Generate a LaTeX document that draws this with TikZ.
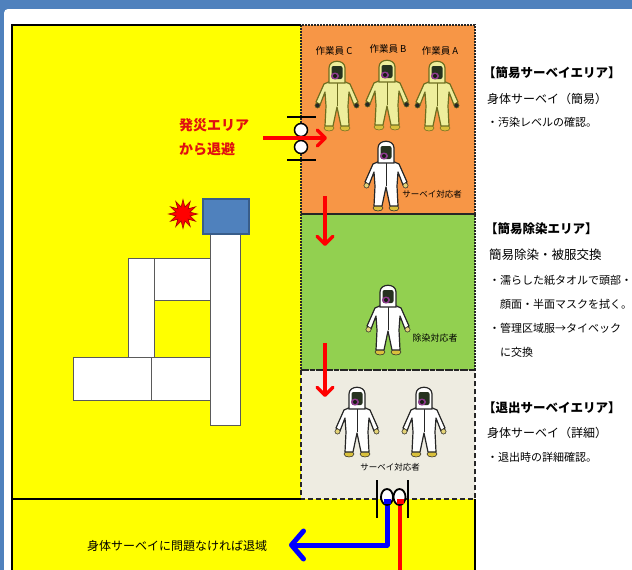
\documentclass[tikz,border=0pt]{standalone}
\usepackage{fontspec}
\setmainfont{Noto Sans CJK JP}
\usetikzlibrary{arrows.meta,shapes.geometric}

\definecolor{frameblue}{HTML}{4F81BD}
\definecolor{zoneorange}{HTML}{F79646}
\definecolor{zonegreen}{HTML}{92D050}
\definecolor{zonegray}{HTML}{EEECE1}
\definecolor{areayellow}{HTML}{FFFF00}
\definecolor{boxedge}{HTML}{385D8A}
\definecolor{suityellow}{HTML}{EEEE9C}
\definecolor{suitedge}{HTML}{6E6E20}
\definecolor{maskdark}{HTML}{26321F}
\definecolor{maskpurple}{HTML}{8E3A8E}
\definecolor{bootyellow}{HTML}{D9C03C}
\definecolor{bldedge}{HTML}{5A5A5A}
\definecolor{textred}{HTML}{E01010}
\definecolor{burstred}{HTML}{FF0000}
\definecolor{burstedge}{HTML}{A00000}

\newcommand\fsz[1]{\fontsize{#1}{#1}\selectfont}

\tikzset{
  zonedots/.style={draw=black!85, line width=1.8pt, dash pattern=on 1.8pt off 1.2pt},
  zonedash/.style={draw=black!85, line width=1.8pt, dash pattern=on 5pt off 3pt},
  wall/.style={draw=black, line width=2pt},
  bld/.style={fill=white, draw=bldedge, line width=1.2pt},
  gateline/.style={draw=black, line width=1.5pt},
  redflow/.style={draw=red, line width=3.4pt, -{Straight Barb[length=8pt,width=16pt,round]}},
  blueflow/.style={draw=blue, line width=5pt, line join=round, -{Straight Barb[length=12pt,width=28pt,round]}},
  info/.style={anchor=west, inner sep=0pt, text=black},
  tag/.style={inner sep=0pt, text=black, font=\fsz{8.5}},
  % protective suit figure: top of the hood at the origin, boots at y = 69
  pics/suit/.style n args={3}{code={
    \fill[bootyellow, draw=#2, line width=0.5pt] (-8,68) ellipse (5 and 3) (8,68) ellipse (5 and 3);
    \draw[fill=#1, draw=#2, line width=1.2pt, line join=round]
      (-6,21) -- (-13,24) -- (-21,42) -- (-17,45) -- (-12,32) -- (-11,46) -- (-12,66)
      -- (-4,66) -- (0,47) -- (4,66) -- (12,66) -- (11,46) -- (12,32) -- (17,45)
      -- (21,42) -- (13,24) -- (6,21) -- cycle;
    \draw[#2, line width=0.6pt] (0,22) -- (0,46);
    \fill[#3, draw=#2, line width=0.5pt] (-19.5,45.5) circle (2.6) (19.5,45.5) circle (2.6);
    \draw[fill=#1, draw=#2, line width=1.2pt]
      (-8,23) -- (-8,8) .. controls (-8,-1) and (8,-1) .. (8,8) -- (8,23) -- cycle;
    \fill[maskdark, rounded corners=2pt] (-5.5,6) rectangle (5.5,19);
    \fill[maskpurple] (-2,16) ellipse (4 and 3.5);
    \fill[maskdark!60!black] (-2,16) ellipse (2 and 2);
  }},
}

\begin{document}
\begin{tikzpicture}[x=1pt,y=-1pt]
\useasboundingbox (0,0) rectangle (632,570);
\clip (0,0) rectangle (632,570);

% window frame and page
\fill[frameblue] (0,0) rectangle (632,570);
\fill[white, rounded corners=4pt] (4,9) rectangle (660,600);

% evacuation grounds
\fill[areayellow] (12,25) rectangle (301,499);
\fill[areayellow] (12,499) rectangle (475,590);

% survey and decontamination zones
\fill[zoneorange] (301,25) rectangle (475,214);
\fill[zonegreen] (301,214) rectangle (475,370);
\fill[zonegray] (301,370) rectangle (475,499);
\draw[zonedots] (301,25) rectangle (475,214);
\draw[zonedots] (301,214) rectangle (475,370);
\draw[zonedash] (301,370) rectangle (475,499);

\draw[wall] (301,25) -- (12,25) -- (12,575);
\draw[wall] (12,499) -- (301,499);
\draw[wall] (475,499) -- (475,575);

% plant buildings
\node[bld, minimum width=30pt, minimum height=192pt, inner sep=0pt, anchor=north west] (tower) at (210,233) {};
\node[bld, minimum width=56pt, minimum height=42pt, inner sep=0pt, anchor=north west] (wingtop) at (154,258) {};
\node[bld, minimum width=26pt, minimum height=99pt, inner sep=0pt, anchor=north west] (wingleft) at (128,258) {};
\node[bld, minimum width=78pt, minimum height=43pt, inner sep=0pt, anchor=north west] (blockleft) at (73,357) {};
\node[bld, minimum width=59pt, minimum height=43pt, inner sep=0pt, anchor=north west] (blockright) at (151,357) {};
\node[fill=frameblue, draw=boxedge, line width=1.5pt, minimum width=46pt, minimum height=35pt, inner sep=0pt, anchor=north west] (reactor) at (202,198) {};
\node[star, star points=12, star point ratio=2.0, fill=burstred, draw=burstedge, line width=0.6pt, minimum size=29pt, inner sep=0pt] (burst) at (183,214) {};

% evacuation from the accident area
\node[anchor=west, inner sep=0pt, text=textred, font=\fsz{14}\bfseries] (evac1) at (179,125) {発災エリア};
\node[anchor=west, inner sep=0pt, text=textred, font=\fsz{14}\bfseries] (evac2) at (179,149) {から退避};

% entry gate
\draw[gateline] (287,117) -- (316,117);
\draw[gateline] (287,160) -- (316,160);
\node[circle, fill=white, draw=black, line width=1.5pt, minimum size=13pt, inner sep=0pt] (gateA) at (301,130) {};
\node[circle, fill=white, draw=black, line width=1.5pt, minimum size=13pt, inner sep=0pt] (gateB) at (301,147) {};
\coordinate (inS) at (263,138);
\coordinate (inE) at (327,138);
\draw[redflow] (inS) -- (inE);

% workers and staff
\node[font=\fsz{9.5}, inner sep=0pt] (labC) at (334,51) {作業員 C};
\node[font=\fsz{9.5}, inner sep=0pt] (labB) at (388,49) {作業員 B};
\node[font=\fsz{9.5}, inner sep=0pt] (labA) at (440,51) {作業員 A};
\pic at (337,60) {suit={suityellow}{suitedge}{black!85}};
\pic at (387,59) {suit={suityellow}{suitedge}{black!85}};
\pic at (437,60) {suit={suityellow}{suitedge}{black!85}};

\pic at (386,140) {suit={white}{black!85}{bootyellow!70}};
\node[tag] (survey1) at (432,194) {サーベイ対応者};

\pic at (388,284) {suit={white}{black!85}{bootyellow!70}};
\node[tag, font=\fsz{9}] (decon) at (435,338) {除染対応者};

\pic at (357,386) {suit={white}{black!85}{bootyellow!70}};
\pic at (424,386) {suit={white}{black!85}{bootyellow!70}};
\node[tag] (survey2) at (390,467) {サーベイ対応者};

% flow through the zones
\coordinate (d1S) at (325,196);
\coordinate (d1E) at (325,246);
\draw[redflow] (d1S) -- (d1E);
\coordinate (d2S) at (325,343);
\coordinate (d2E) at (325,397);
\draw[redflow] (d2S) -- (d2E);

% exit gate
\coordinate (outT) at (400,503);
\coordinate (outB) at (400,575);
\draw[draw=red, line width=4.5pt] (outT) -- (outB);
\coordinate (backT) at (387,503);
\coordinate (backC) at (387,545);
\coordinate (backE) at (289,545);
\draw[blueflow] (backT) -- (backC) -- (backE);
\draw[gateline] (377,480) -- (377,518);
\draw[gateline] (408,480) -- (408,518);
\node[ellipse, fill=white, draw=black, line width=1.8pt, minimum width=12pt, minimum height=16pt, inner sep=0pt] (exitA) at (387,497) {};
\node[ellipse, fill=white, draw=black, line width=1.8pt, minimum width=12pt, minimum height=16pt, inner sep=0pt] (exitB) at (399.5,497) {};
\fill[blue] (383.5,499) rectangle (390.5,504);
\fill[red] (396.5,499) rectangle (403.5,504);

\node[info, font=\fsz{12}] (leave) at (87,546) {身体サーベイに問題なければ退域};

% zone descriptions
\node[info, font=\fsz{12.5}\bfseries] (h1) at (483,73) {【簡易サーベイエリア】};
\node[info, font=\fsz{12}] (b1) at (487,99) {身体サーベイ（簡易）};
\node[info, font=\fsz{11}] (c1) at (487,122) {・汚染レベルの確認。};

\node[info, font=\fsz{12.5}\bfseries] (h2) at (485,229) {【簡易除染エリア】};
\node[info, font=\fsz{12.5}] (b2) at (489,255) {簡易除染・被服交換};
\node[info, font=\fsz{11}] (c2) at (489,280) {・濡らした紙タオルで頭部・};
\node[info, font=\fsz{11}] (c3) at (500,304) {顔面・半面マスクを拭く。};
\node[info, font=\fsz{11}] (c4) at (489,328) {・管理区域服→タイベック};
\node[info, font=\fsz{11}] (c5) at (500,352) {に交換};

\node[info, font=\fsz{12.5}\bfseries] (h3) at (483,408) {【退出サーベイエリア】};
\node[info, font=\fsz{12}] (b3) at (487,433) {身体サーベイ（詳細）};
\node[info, font=\fsz{11}] (c6) at (487,457) {・退出時の詳細確認。};
\end{tikzpicture}
\end{document}
